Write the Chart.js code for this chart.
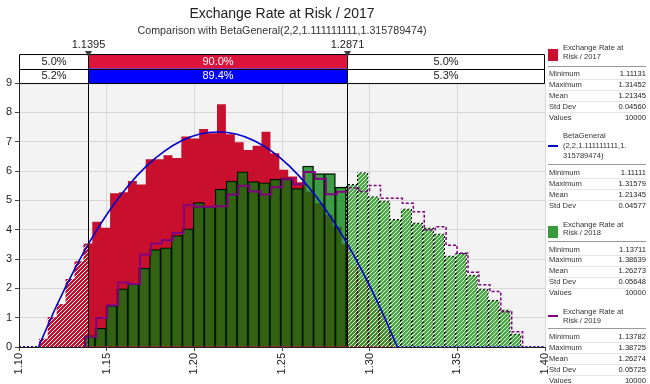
<!DOCTYPE html>
<html>
<head>
<meta charset="utf-8">
<script src="https://cdn.jsdelivr.net/npm/chart.js@4.4.1/dist/chart.umd.min.js"></script>
<style>
  html, body { margin: 0; padding: 0; background: #fff; }
  #wrap { position: relative; width: 650px; height: 384px; overflow: hidden; }
  #legend { position: absolute; left: 0; top: 0; width: 650px; height: 384px; pointer-events: none;
    font-family: 'Liberation Sans', Arial, sans-serif; font-size: 7.6px; color: #333; }
  #legend div { position: absolute; white-space: nowrap; }
</style>
</head>
<body>
<div id="wrap">
  <canvas id="chart" width="650" height="384"></canvas>
  <div id="legend"></div>
</div>
<script>
// delimiters of the 90% band and the shares shown in the two rows above the plot
const BAND_LOW = 1.1395
const BAND_HIGH = 1.2871
const BAND_ROW_2017 = ['5.0%', '90.0%', '5.0%']
const BAND_ROW_BETA = ['5.2%', '89.4%', '5.3%']

const X_TICKS = [1.10, 1.15, 1.20, 1.25, 1.30, 1.35, 1.40]
const Y_TICKS = [0, 1, 2, 3, 4, 5, 6, 7, 8, 9]

// histograms: 40 bins between the min and max of each simulation (density)
const RANGE_2017 = [1.11131, 1.31452]
const DENSITY_2017 = [
  0.28, 1.02, 1.47, 2.32, 2.92, 3.53, 4.27, 4.07, 5.24, 5.28,
  5.66, 5.54, 6.40, 6.40, 6.54, 6.44, 7.18, 7.11, 7.43, 7.29,
  8.28, 7.25, 6.98, 6.72, 6.86, 7.34, 6.61, 6.04, 5.81, 5.62,
  5.30, 4.90, 4.50, 4.10, 3.50, 2.75, 2.29, 1.61, 1.20, 0.60
]
const RANGE_2018 = [1.13711, 1.38639]
const DENSITY_2018 = [
  0.38, 0.64, 1.41, 1.98, 2.15, 2.69, 3.32, 3.38, 3.80, 4.03,
  4.92, 4.80, 5.38, 5.66, 5.97, 5.64, 5.60, 5.72, 5.76, 5.40,
  6.17, 5.91, 5.91, 5.45, 5.55, 5.95, 5.13, 4.98, 4.35, 4.71,
  4.23, 4.06, 3.86, 3.11, 3.20, 2.45, 1.98, 1.60, 1.27, 0.45
]
const RANGE_2019 = [1.13782, 1.38725]
const DENSITY_2019 = [
  0.35, 0.99, 1.42, 2.20, 2.15, 3.15, 3.53, 3.64, 3.89, 4.83,
  4.78, 4.78, 4.80, 5.20, 5.50, 5.30, 5.20, 5.45, 5.72, 5.55,
  5.97, 5.74, 5.21, 5.29, 5.43, 5.30, 5.51, 5.07, 5.07, 4.90,
  4.61, 4.00, 4.10, 3.47, 3.20, 2.55, 2.12, 1.89, 1.20, 0.52
]

// fitted BetaGeneral curve
const BETA_X = [1.1111, 1.1213, 1.1316, 1.1418, 1.1520, 1.1623, 1.1725, 1.1828, 1.1930, 1.2032, 1.2135,
  1.2237, 1.2339, 1.2442, 1.2544, 1.2646, 1.2749, 1.2851, 1.2953, 1.3056, 1.3158]
const BETA_Y = [0, 1.39, 2.64, 3.74, 4.69, 5.50, 6.16, 6.67, 7.04, 7.26, 7.33,
  7.26, 7.04, 6.67, 6.16, 5.50, 4.69, 3.74, 2.64, 1.39, 0]

const STAT_NAMES = ['Minimum', 'Maximum', 'Mean', 'Std Dev', 'Values']
const STATS_2017 = ['1.11131', '1.31452', '1.21345', '0.04560', '10000']
const STATS_BETA = ['1.11111', '1.31579', '1.21345', '0.04577']
const STATS_2018 = ['1.13711', '1.38639', '1.26273', '0.05648', '10000']
const STATS_2019 = ['1.13782', '1.38725', '1.26274', '0.05725', '10000']

const RED = '#c8102e'
const BAND_RED = '#dc143c'
const GREEN = 'rgba(0, 125, 10, 0.74)'
const PURPLE = '#800080'
const BLUE = '#0000cd'

function binEdges ([lo, hi], n) {
  const w = (hi - lo) / n
  return Array.from({ length: n + 1 }, (_, i) => lo + i * w)
}

// stepped outline of a histogram, cut to [from, to]
function histSlice (edges, heights, from, to) {
  const pts = []
  heights.forEach((h, i) => {
    const a = Math.max(edges[i], from)
    const b = Math.min(edges[i + 1], to)
    if (b > a) pts.push({ x: a, y: h })
  })
  const start = Math.max(edges[0], from)
  const end = Math.min(edges[edges.length - 1], to)
  return [{ x: start, y: 0 }, ...pts, { x: end, y: 0 }]
}

const edges2017 = binEdges(RANGE_2017, DENSITY_2017.length)
const edges2018 = binEdges(RANGE_2018, DENSITY_2018.length)
const edges2019 = binEdges(RANGE_2019, DENSITY_2019.length)

const bars2018 = DENSITY_2018.map((y, i) => ({ x: (edges2018[i] + edges2018[i + 1]) / 2, y }))

// 2019 outline: solid inside the band, dashed past the upper delimiter
const outline2019 = histSlice(edges2019, DENSITY_2019, -Infinity, Infinity)
const splitAt = edges2019.findIndex(e => e >= BAND_HIGH)
const line2019In = outline2019.slice(0, splitAt + 1).concat([{ x: edges2019[splitAt], y: DENSITY_2019[splitAt - 1] }])
const line2019Out = [{ x: edges2019[splitAt], y: DENSITY_2019[splitAt - 1] }].concat(outline2019.slice(splitAt + 1))

const betaCurve = BETA_X.map((x, i) => ({ x, y: BETA_Y[i] }))
const betaFlat = [{ x: 1.10, y: 0 }, { x: BETA_X[0], y: 0 }, { x: 1.2, y: null },
  { x: BETA_X[BETA_X.length - 1], y: 0 }, { x: 1.40, y: 0 }]

const canvas = document.getElementById('chart')
const ctx = canvas.getContext('2d')

function hatch (bg, line, width) {
  const c = document.createElement('canvas')
  c.width = c.height = 4
  const g = c.getContext('2d')
  g.fillStyle = bg
  g.fillRect(0, 0, 4, 4)
  g.strokeStyle = line
  g.lineWidth = width
  g.beginPath()
  g.moveTo(-1, 5); g.lineTo(5, -1)
  g.moveTo(-1, 1); g.lineTo(1, -1)
  g.moveTo(3, 5); g.lineTo(5, 3)
  g.stroke()
  return ctx.createPattern(c, 'repeat')
}

function dashes () {
  const c = document.createElement('canvas')
  c.width = c.height = 4
  const g = c.getContext('2d')
  g.fillStyle = '#000'
  for (let x = 0; x < 4; x++) {
    for (let y = 0; y < 4; y++) {
      if ((x + y) % 4 < 2) g.fillRect(x, y, 1, 1)
    }
  }
  return ctx.createPattern(c, 'repeat')
}

const RED_HATCH = hatch(RED, '#ffffff', 1.0)
const GREEN_HATCH = hatch('rgba(55, 160, 50, 0.88)', 'rgba(255, 255, 255, 0.8)', 1.0)
const DASHED_BORDER = dashes()

const outside = (c) => c.raw && c.raw.x >= BAND_HIGH

const bandPlugin = {
  id: 'band',
  beforeDraw (chart) {
    const { ctx, chartArea: a } = chart
    ctx.save()
    ctx.fillStyle = '#f3f3f3'
    ctx.fillRect(a.left, a.top, a.right - a.left, a.bottom - a.top)
    ctx.restore()
  },
  afterDraw (chart) {
    const { ctx, chartArea: a, scales: { x } } = chart
    const xl = Math.round(x.getPixelForValue(BAND_LOW)) + 0.5
    const xh = Math.round(x.getPixelForValue(BAND_HIGH)) + 0.5
    const top = a.top - 29
    const mid = a.top - 14.5
    const left = a.left + 0.5
    const right = a.right - 0.5
    ctx.save()
    ctx.fillStyle = '#fff'
    ctx.fillRect(left, top, right - left, 29)
    ctx.fillStyle = BAND_RED
    ctx.fillRect(xl, top, xh - xl, 14.5)
    ctx.fillStyle = '#0000ff'
    ctx.fillRect(xl, mid, xh - xl, 14.5)

    ctx.strokeStyle = '#000'
    ctx.lineWidth = 1
    ctx.beginPath()
    ctx.rect(left, top + 0.5, right - left, 29)
    ctx.moveTo(left, Math.round(mid) + 0.5)
    ctx.lineTo(right, Math.round(mid) + 0.5)
    ctx.moveTo(xl, top)
    ctx.lineTo(xl, a.bottom)
    ctx.moveTo(xh, top)
    ctx.lineTo(xh, a.bottom)
    ctx.stroke()

    ctx.font = '11px "Liberation Sans", Arial, sans-serif'
    ctx.textAlign = 'center'
    ctx.textBaseline = 'middle'
    const cells = [(left + xl) / 2, (xl + xh) / 2, (xh + right) / 2]
    const rows = [[BAND_ROW_2017, top + 7.5], [BAND_ROW_BETA, mid + 7.5]]
    rows.forEach(([texts, y]) => {
      texts.forEach((t, i) => {
        ctx.fillStyle = i === 1 ? '#fff' : '#222'
        ctx.fillText(t, cells[i], y)
      })
    })

    ;[[xl, BAND_LOW], [xh, BAND_HIGH]].forEach(([px, v]) => {
      ctx.fillStyle = '#222'
      ctx.fillText(v.toFixed(4), px, top - 9)
      ctx.fillStyle = '#3c3c3c'
      ctx.beginPath()
      ctx.moveTo(px - 3.5, top - 3)
      ctx.lineTo(px + 3.5, top - 3)
      ctx.lineTo(px, top + 3)
      ctx.closePath()
      ctx.fill()
    })
    ctx.restore()
  }
}

Chart.defaults.font.family = '"Liberation Sans", Arial, sans-serif'

new Chart(ctx, {
  type: 'line',
  data: {
    datasets: [
      { data: betaFlat, borderColor: BLUE, borderWidth: 2, borderDash: [2, 2], pointRadius: 0, spanGaps: false, order: 0 },
      { data: betaCurve, borderColor: BLUE, borderWidth: 1.6, pointRadius: 0, cubicInterpolationMode: 'monotone', order: 0 },
      { data: line2019In, borderColor: PURPLE, borderWidth: 2, stepped: true, pointRadius: 0, order: 1 },
      { data: line2019Out, borderColor: PURPLE, borderWidth: 1.5, borderDash: [3, 2], stepped: true, pointRadius: 0, order: 1 },
      {
        type: 'bar',
        data: bars2018,
        grouped: false,
        categoryPercentage: 1,
        barPercentage: 1,
        backgroundColor: c => outside(c) ? GREEN_HATCH : GREEN,
        borderColor: c => outside(c) ? DASHED_BORDER : '#000',
        borderWidth: 1,
        borderSkipped: 'start',
        order: 2
      },
      { data: histSlice(edges2017, DENSITY_2017, -Infinity, BAND_LOW), stepped: true, fill: 'origin', backgroundColor: RED_HATCH, borderColor: 'rgba(0,0,0,0)', borderWidth: 0, pointRadius: 0, order: 3 },
      { data: histSlice(edges2017, DENSITY_2017, BAND_LOW, BAND_HIGH), stepped: true, fill: 'origin', backgroundColor: RED, borderColor: 'rgba(0,0,0,0)', borderWidth: 0, pointRadius: 0, order: 3 },
      { data: histSlice(edges2017, DENSITY_2017, BAND_HIGH, Infinity), stepped: true, fill: 'origin', backgroundColor: RED_HATCH, borderColor: 'rgba(0,0,0,0)', borderWidth: 0, pointRadius: 0, order: 3 }
    ]
  },
  options: {
    responsive: false,
    animation: false,
    devicePixelRatio: 1,
    layout: { padding: { left: 0, right: 105, top: 0, bottom: 0 } },
    plugins: {
      legend: { display: false },
      tooltip: { enabled: false },
      title: {
        display: true,
        fullSize: false,
        text: 'Exchange Rate at Risk / 2017',
        color: '#222',
        font: { size: 14, weight: 'normal' },
        padding: { top: 6, bottom: 2 }
      },
      subtitle: {
        display: true,
        fullSize: false,
        text: 'Comparison with BetaGeneral(2,2,1.111111111,1.315789474)',
        color: '#333',
        font: { size: 10.7 },
        padding: { top: 0, bottom: 45.4 }
      }
    },
    scales: {
      x: {
        type: 'linear',
        min: 1.10,
        max: 1.40,
        offset: false,
        afterBuildTicks: s => { s.ticks = X_TICKS.map(value => ({ value })) },
        afterFit: s => { s.height = 37; s.paddingLeft = 0; s.paddingRight = 0 },
        ticks: {
          autoSkip: false,
          minRotation: 90,
          maxRotation: 90,
          padding: 2,
          color: '#222',
          font: { size: 11 },
          callback: v => v.toFixed(2)
        },
        grid: { color: '#d8d8d8', tickColor: '#444', tickLength: 4, offset: false },
        border: { color: '#222' }
      },
      y: {
        min: 0,
        max: 9,
        afterBuildTicks: s => { s.ticks = Y_TICKS.map(value => ({ value })) },
        afterFit: s => { s.width = 19; s.paddingTop = 0; s.paddingBottom = 0 },
        ticks: { padding: 3, color: '#222', font: { size: 11 }, callback: v => String(v) },
        grid: { color: '#d8d8d8', tickColor: '#444', tickLength: 4 },
        border: { color: '#222' }
      }
    }
  },
  plugins: [bandPlugin]
})

// statistics panel on the right
const legend = document.getElementById('legend')

function put (html, style) {
  const d = document.createElement('div')
  d.innerHTML = html
  Object.assign(d.style, style)
  legend.appendChild(d)
  return d
}

function addBlock ({ lines, mark, color, top, lineH, hrY, rowTop, rowH, stats }) {
  lines.forEach((t, i) => {
    put(t, { left: '563px', top: (top + i * lineH) + 'px', lineHeight: lineH + 'px' })
  })
  const midY = top + lines.length * lineH / 2
  if (mark === 'box') {
    put('', { left: '548px', top: (midY - 3) + 'px', width: '10px', height: '12px', background: color })
  } else {
    put('', { left: '548px', top: (midY - 1) + 'px', width: '10px', height: '2px', background: color })
  }
  put('', { left: '548px', top: hrY + 'px', width: '98px', height: '1px', background: '#9a9a9a' })
  stats.forEach((v, i) => {
    const y = rowTop + i * rowH
    put(STAT_NAMES[i], { left: '549px', top: y + 'px', lineHeight: rowH + 'px' })
    put(v, { right: '4px', top: y + 'px', lineHeight: rowH + 'px', color: '#222' })
    if (i < stats.length - 1) {
      put('', { left: '548px', top: (y + rowH) + 'px', width: '98px', height: '1px', background: '#e6e6e6' })
    }
  })
}

addBlock({ lines: ['Exchange Rate at', 'Risk / 2017'], mark: 'box', color: RED, top: 42.5, lineH: 9, hrY: 65.5, rowTop: 67.5, rowH: 11, stats: STATS_2017 })
addBlock({ lines: ['BetaGeneral', '(2,2,1.111111111,1.', '315789474)'], mark: 'line', color: BLUE, top: 131, lineH: 10, hrY: 163.5, rowTop: 167.2, rowH: 11, stats: STATS_BETA })
addBlock({ lines: ['Exchange Rate at', 'Risk / 2018'], mark: 'box', color: '#3a9a3a', top: 220.5, lineH: 8.5, hrY: 240.5, rowTop: 244.7, rowH: 10.7, stats: STATS_2018 })
addBlock({ lines: ['Exchange Rate at', 'Risk / 2019'], mark: 'line', color: PURPLE, top: 307.2, lineH: 9, hrY: 327.5, rowTop: 330.5, rowH: 11, stats: STATS_2019 })
</script>
</body>
</html>
